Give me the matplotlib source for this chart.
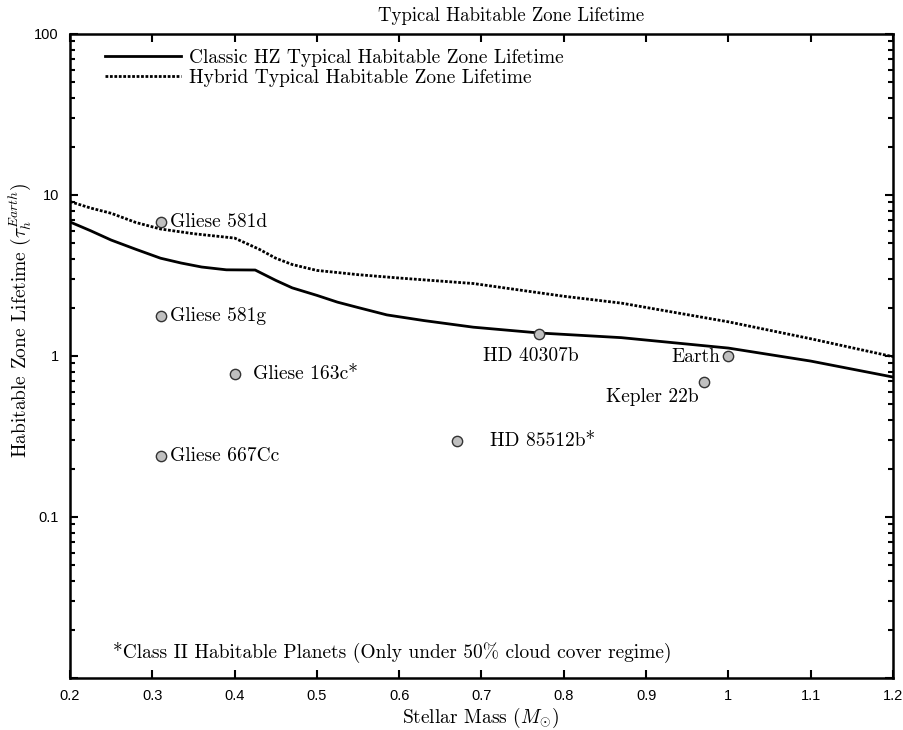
import numpy as np
import matplotlib.pyplot as plt

plt.rcParams['mathtext.fontset'] = 'cm'
plt.rcParams['font.family'] = ['cmr10', 'DejaVu Serif']
plt.rcParams['axes.formatter.use_mathtext'] = True

# Typical habitable zone lifetime vs stellar mass (in units of Earth's)
classic_mass = [0.20, 0.225, 0.25, 0.28, 0.31, 0.335, 0.36, 0.39, 0.425, 0.45, 0.47,
                0.50, 0.525, 0.55, 0.585, 0.63, 0.69, 0.77, 0.87, 1.0, 1.1, 1.2]
classic_tau = [6.8, 6.0, 5.25, 4.6, 4.05, 3.78, 3.57, 3.43, 3.42, 2.95, 2.65,
               2.38, 2.16, 2.0, 1.80, 1.66, 1.51, 1.39, 1.30, 1.12, 0.93, 0.74]

hybrid_mass = [0.20, 0.225, 0.25, 0.28, 0.31, 0.35, 0.40, 0.43, 0.45, 0.47, 0.50,
               0.525, 0.55, 0.60, 0.69, 0.80, 0.87, 1.0, 1.1, 1.2]
hybrid_tau = [9.1, 8.3, 7.7, 6.75, 6.15, 5.75, 5.4, 4.6, 4.05, 3.7, 3.4,
              3.3, 3.2, 3.05, 2.82, 2.35, 2.13, 1.63, 1.28, 0.99]

# Planets
planet_names = ["Gliese 581d", "Gliese 581g", "Gliese 163c*", "Gliese 667Cc",
                "HD 85512b*", "HD 40307b", "Earth", "Kepler 22b"]
planet_mass = [0.31, 0.31, 0.40, 0.31, 0.67, 0.77, 1.00, 0.97]
planet_tau = [6.8, 1.78, 0.77, 0.24, 0.295, 1.37, 1.00, 0.69]

# label offsets in points and alignment
label_pos = [(7, 0, 'left'), (7, 0, 'left'), (13, 0, 'left'), (7, 0, 'left'),
             (24, 0, 'left'), (-6, -16, 'center'), (-6, -1, 'right'), (-4, -11, 'right')]

tick_font = {'family': 'Liberation Sans', 'size': 10.5}

fig = plt.figure(figsize=(9.04, 7.30), dpi=100)
ax = fig.add_axes([70/904, 1 - 678/730, 823/904, 644/730])

ax.plot(classic_mass, classic_tau, '-', c='k', lw=2.0,
        label="Classic HZ Typical Habitable Zone Lifetime")
ax.plot(hybrid_mass, hybrid_tau, c='k', lw=2.0, linestyle=(0, (1, 0.6)),
        label="Hybrid Typical Habitable Zone Lifetime")

ax.scatter(planet_mass, planet_tau, s=55, c='#c0c0c0', edgecolors='#333333',
           linewidths=1.0, zorder=5)
for name, m, t, (dx, dy, ha) in zip(planet_names, planet_mass, planet_tau, label_pos):
    ax.annotate(name, (m, t), xytext=(dx, dy), textcoords='offset points',
                ha=ha, va='center', fontsize=14)

ax.text(0.252, 0.0133, "*Class II Habitable Planets (Only under 50% cloud cover regime)",
        fontsize=14, va='baseline')

ax.set_yscale('log')
ax.set_xlim(0.2, 1.2)
ax.set_ylim(0.01, 100)
ax.set_xticks(np.arange(0.2, 1.21, 0.1))
ax.set_xticklabels(["0.2", "0.3", "0.4", "0.5", "0.6", "0.7", "0.8", "0.9", "1", "1.1", "1.2"],
                   fontdict=tick_font)
ax.set_yticks([0.01, 0.1, 1, 10, 100])
ax.set_yticklabels(["", "0.1", "1", "10", "100"], fontdict=tick_font)

ax.tick_params(which='both', direction='in', top=True, right=True, width=1.5)
ax.tick_params(which='major', length=6, pad=8)
ax.tick_params(which='minor', length=3.5)
for s in ax.spines.values():
    s.set_linewidth(1.8)

fig.text(511/904, 1 - 21/730, "Typical Habitable Zone Lifetime", fontsize=13.5,
         ha='center', va='baseline')
fig.text(480/904, 1 - 718/730, r"Stellar Mass ($M_{\odot}$)", fontsize=14,
         ha='center', va='center')
fig.text(20/904, 1 - 320/730, r"Habitable Zone Lifetime ($\tau_h^{Earth}$)", fontsize=14,
         rotation=90, ha='center', va='center')

ax.legend(loc='upper left', bbox_to_anchor=(0.025, 1.0), frameon=False, fontsize=14,
          handlelength=3.9, labelspacing=0.1, handletextpad=0.4, borderaxespad=0.35)

plt.savefig("out.png", dpi=100)
